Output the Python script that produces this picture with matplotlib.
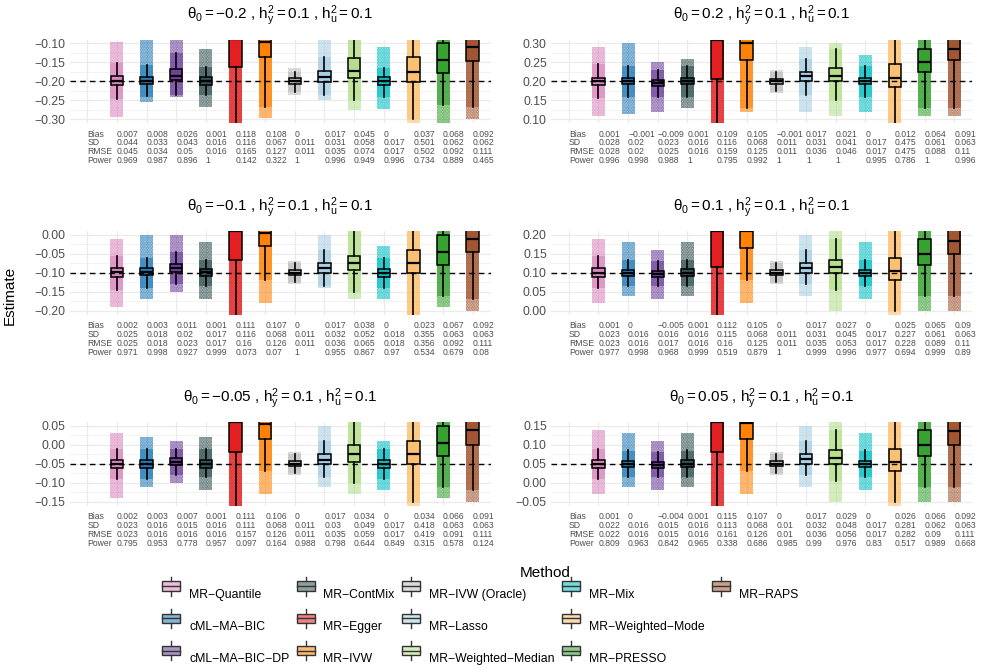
import matplotlib.pyplot as plt
import matplotlib.transforms as mtransforms
from matplotlib.patches import Rectangle
from matplotlib.lines import Line2D
from matplotlib.legend_handler import HandlerBase
from matplotlib.ticker import MultipleLocator, FuncFormatter, FixedLocator

plt.rcParams['font.family'] = ['Liberation Sans', 'DejaVu Sans']
plt.rcParams['mathtext.fontset'] = 'custom'
plt.rcParams['mathtext.rm'] = 'Liberation Sans'
plt.rcParams['mathtext.it'] = 'Liberation Sans'
plt.rcParams['mathtext.sf'] = 'Liberation Sans'
plt.rcParams['hatch.linewidth'] = 1.0

methods = ["MR−Quantile", "cML−MA−BIC", "cML−MA−BIC−DP", "MR−ContMix", "MR−Egger",
           "MR−IVW", "MR−IVW (Oracle)", "MR−Lasso", "MR−Weighted−Median", "MR−Mix",
           "MR−Weighted−Mode", "MR−PRESSO", "MR−RAPS"]
colors = ["#DA84BD", "#1F78B4", "#6A3D9A", "#2F4F4F", "#E31A1C", "#FF7F00", "#BEBEBE",
          "#A6CEE3", "#B2DF8A", "#00BFC4", "#FDBF6F", "#33A02C", "#A0522D"]

theta0 = [-0.2, 0.2, -0.1, 0.1, -0.05, 0.05]
row_names = ["Bias", "SD", "RMSE", "Power"]

# box stats per method: (lower whisker, q1, median, q3, upper whisker)
box_A = [(-0.246, -0.2105, -0.198, -0.186, -0.153), (-0.240, -0.207, -0.198, -0.188, -0.157),
         (-0.236, -0.197, -0.186, -0.168, -0.125), (-0.236, -0.209, -0.199, -0.190, -0.162),
         (-0.45, -0.162, -0.09, -0.01, 0.2), (-0.267, -0.137, -0.096, -0.047, 0.08),
         (-0.227, -0.207, -0.200, -0.192, -0.175), (-0.236, -0.201, -0.190, -0.173, -0.137),
         (-0.249, -0.192, -0.173, -0.140, -0.07), (-0.242, -0.210, -0.199, -0.190, -0.166),
         (-0.30, -0.201, -0.175, -0.137, -0.04), (-0.262, -0.179, -0.145, -0.098, 0.02),
         (-0.267, -0.147, -0.109, -0.07, 0.05)]
box_B = [(0.155, 0.190, 0.200, 0.210, 0.245), (0.160, 0.192, 0.200, 0.208, 0.240),
         (0.160, 0.187, 0.195, 0.204, 0.230), (0.160, 0.192, 0.201, 0.210, 0.240),
         (0.0, 0.205, 0.31, 0.39, 0.6), (0.13, 0.256, 0.30, 0.35, 0.47),
         (0.175, 0.193, 0.200, 0.207, 0.225), (0.165, 0.200, 0.213, 0.225, 0.26),
         (0.15, 0.200, 0.215, 0.235, 0.285), (0.16, 0.192, 0.201, 0.210, 0.240),
         (0.09, 0.185, 0.210, 0.245, 0.34), (0.13, 0.225, 0.250, 0.285, 0.36),
         (0.13, 0.255, 0.285, 0.33, 0.43)]
box_C = [(-0.145, -0.11, -0.098, -0.088, -0.055), (-0.14, -0.107, -0.097, -0.088, -0.06),
         (-0.13, -0.098, -0.088, -0.077, -0.045), (-0.135, -0.108, -0.099, -0.090, -0.065),
         (-0.35, -0.065, 0.01, 0.09, 0.3), (-0.12, -0.03, 0.005, 0.05, 0.18),
         (-0.125, -0.107, -0.1, -0.093, -0.075), (-0.135, -0.10, -0.088, -0.075, -0.04),
         (-0.15, -0.093, -0.075, -0.055, 0.01), (-0.14, -0.11, -0.1, -0.09, -0.06),
         (-0.22, -0.10, -0.075, -0.04, 0.06), (-0.16, -0.08, -0.045, 0.0, 0.12),
         (-0.17, -0.045, -0.01, 0.03, 0.15)]
box_D = [(0.06, 0.09, 0.10, 0.112, 0.145), (0.065, 0.092, 0.10, 0.108, 0.135),
         (0.065, 0.088, 0.096, 0.105, 0.13), (0.065, 0.092, 0.10, 0.11, 0.135),
         (-0.1, 0.115, 0.21, 0.29, 0.5), (0.08, 0.165, 0.21, 0.25, 0.37),
         (0.075, 0.093, 0.10, 0.107, 0.125), (0.07, 0.10, 0.112, 0.127, 0.16),
         (0.055, 0.10, 0.115, 0.135, 0.19), (0.065, 0.092, 0.10, 0.108, 0.135),
         (0.0, 0.08, 0.105, 0.14, 0.24), (0.04, 0.12, 0.15, 0.19, 0.3),
         (0.04, 0.15, 0.185, 0.23, 0.35)]
box_E = [(-0.09, -0.06, -0.05, -0.04, -0.01), (-0.09, -0.06, -0.05, -0.04, -0.01),
         (-0.08, -0.054, -0.045, -0.036, -0.01), (-0.085, -0.06, -0.05, -0.04, -0.01),
         (-0.3, -0.02, 0.06, 0.14, 0.35), (-0.07, 0.015, 0.056, 0.1, 0.22),
         (-0.075, -0.057, -0.05, -0.043, -0.025), (-0.085, -0.05, -0.04, -0.025, 0.01),
         (-0.1, -0.045, -0.025, 0.0, 0.06), (-0.09, -0.06, -0.05, -0.04, -0.01),
         (-0.15, -0.05, -0.025, 0.01, 0.11), (-0.11, -0.03, 0.005, 0.05, 0.17),
         (-0.12, 0.0, 0.04, 0.08, 0.2)]
box_F = [(0.01, 0.04, 0.05, 0.06, 0.09), (0.015, 0.042, 0.05, 0.058, 0.085),
         (0.015, 0.038, 0.046, 0.055, 0.08), (0.015, 0.042, 0.05, 0.06, 0.085),
         (-0.15, 0.08, 0.16, 0.24, 0.45), (0.03, 0.115, 0.157, 0.2, 0.32),
         (0.025, 0.043, 0.05, 0.057, 0.075), (0.02, 0.05, 0.062, 0.077, 0.11),
         (0.005, 0.05, 0.065, 0.085, 0.14), (0.015, 0.042, 0.05, 0.058, 0.085),
         (-0.05, 0.03, 0.055, 0.09, 0.19), (-0.01, 0.07, 0.10, 0.14, 0.25),
         (-0.01, 0.10, 0.135, 0.18, 0.3)]

# vertical extent of the jittered point clouds: (lowest, highest)
cloud_A = [(-0.293, -0.096), (-0.254, -0.09), (-0.242, -0.08), (-0.267, -0.116), (-0.5, 0.3),
           (-0.297, 0.1), (-0.235, -0.165), (-0.249, -0.09), (-0.276, -0.05), (-0.274, -0.109),
           (-0.4, 0.0), (-0.31, 0.05), (-0.30, 0.1)]
cloud_B = [(0.11, 0.29), (0.115, 0.30), (0.12, 0.25), (0.13, 0.26), (-0.1, 0.7), (0.12, 0.5),
           (0.17, 0.23), (0.12, 0.29), (0.11, 0.30), (0.12, 0.27), (0.0, 0.4), (0.11, 0.4),
           (0.11, 0.45)]
cloud_C = [(-0.19, -0.01), (-0.17, 0.0), (-0.15, 0.0), (-0.17, -0.02), (-0.5, 0.5), (-0.18, 0.2),
           (-0.13, -0.07), (-0.14, 0.0), (-0.17, 0.01), (-0.17, -0.03), (-0.3, 0.1), (-0.19, 0.15),
           (-0.2, 0.2)]
cloud_D = [(0.02, 0.19), (0.04, 0.18), (0.03, 0.16), (0.04, 0.18), (-0.2, 0.6), (0.02, 0.4),
           (0.07, 0.13), (0.04, 0.20), (0.0, 0.21), (0.03, 0.18), (-0.1, 0.3), (0.0, 0.3),
           (0.0, 0.4)]
cloud_E = [(-0.14, 0.03), (-0.11, 0.02), (-0.10, 0.01), (-0.12, 0.02), (-0.4, 0.5), (-0.13, 0.25),
           (-0.08, -0.02), (-0.11, 0.05), (-0.13, 0.07), (-0.12, 0.01), (-0.2, 0.2), (-0.14, 0.2),
           (-0.15, 0.25)]
cloud_F = [(-0.03, 0.14), (-0.01, 0.13), (-0.02, 0.11), (-0.01, 0.13), (-0.3, 0.5), (-0.03, 0.3),
           (0.02, 0.08), (-0.01, 0.15), (-0.05, 0.16), (-0.02, 0.13), (-0.15, 0.25), (-0.05, 0.25),
           (-0.05, 0.35)]

bias_A = [0.007, 0.008, 0.026, 0.001, 0.118, 0.108, 0, 0.017, 0.045, 0, 0.037, 0.068, 0.092]
sd_A = [0.044, 0.033, 0.043, 0.016, 0.116, 0.067, 0.011, 0.031, 0.058, 0.017, 0.501, 0.062, 0.062]
rmse_A = [0.045, 0.034, 0.05, 0.016, 0.165, 0.127, 0.011, 0.035, 0.074, 0.017, 0.502, 0.092, 0.111]
power_A = [0.969, 0.987, 0.896, 1, 0.142, 0.322, 1, 0.996, 0.949, 0.996, 0.734, 0.889, 0.465]

bias_B = [0.001, -0.001, -0.009, 0.001, 0.109, 0.105, -0.001, 0.017, 0.021, 0, 0.012, 0.064, 0.091]
sd_B = [0.028, 0.02, 0.023, 0.016, 0.116, 0.068, 0.011, 0.031, 0.041, 0.017, 0.475, 0.061, 0.063]
rmse_B = [0.028, 0.02, 0.025, 0.016, 0.159, 0.125, 0.011, 0.036, 0.046, 0.017, 0.475, 0.088, 0.11]
power_B = [0.996, 0.998, 0.988, 1, 0.795, 0.992, 1, 1, 1, 0.995, 0.786, 1, 0.996]

bias_C = [0.002, 0.003, 0.011, 0.001, 0.111, 0.107, 0, 0.017, 0.038, 0, 0.023, 0.067, 0.092]
sd_C = [0.025, 0.018, 0.02, 0.017, 0.116, 0.068, 0.011, 0.032, 0.052, 0.018, 0.355, 0.063, 0.063]
rmse_C = [0.025, 0.018, 0.023, 0.017, 0.16, 0.126, 0.011, 0.036, 0.065, 0.018, 0.356, 0.092, 0.111]
power_C = [0.971, 0.998, 0.927, 0.999, 0.073, 0.07, 1, 0.955, 0.867, 0.97, 0.534, 0.679, 0.08]

bias_D = [0.001, 0, -0.005, 0.001, 0.112, 0.105, 0, 0.017, 0.027, 0, 0.025, 0.065, 0.09]
sd_D = [0.023, 0.016, 0.016, 0.016, 0.115, 0.068, 0.011, 0.031, 0.045, 0.017, 0.227, 0.061, 0.063]
rmse_D = [0.023, 0.016, 0.017, 0.016, 0.16, 0.125, 0.011, 0.035, 0.053, 0.017, 0.228, 0.089, 0.11]
power_D = [0.977, 0.998, 0.968, 0.999, 0.519, 0.879, 1, 0.999, 0.996, 0.977, 0.694, 0.999, 0.89]

bias_E = [0.002, 0.003, 0.007, 0.001, 0.111, 0.106, 0, 0.017, 0.034, 0, 0.034, 0.066, 0.091]
sd_E = [0.023, 0.016, 0.015, 0.016, 0.111, 0.068, 0.011, 0.03, 0.049, 0.017, 0.418, 0.063, 0.063]
rmse_E = [0.023, 0.016, 0.016, 0.016, 0.157, 0.126, 0.011, 0.035, 0.059, 0.017, 0.419, 0.091, 0.111]
power_E = [0.795, 0.953, 0.778, 0.957, 0.097, 0.164, 0.988, 0.798, 0.644, 0.849, 0.315, 0.578, 0.124]

bias_F = [0.001, 0, -0.004, 0.001, 0.115, 0.107, 0, 0.017, 0.029, 0, 0.026, 0.066, 0.092]
sd_F = [0.022, 0.016, 0.015, 0.016, 0.113, 0.068, 0.01, 0.032, 0.048, 0.017, 0.281, 0.062, 0.063]
rmse_F = [0.022, 0.016, 0.015, 0.016, 0.161, 0.126, 0.01, 0.036, 0.056, 0.017, 0.282, 0.09, 0.111]
power_F = [0.809, 0.963, 0.842, 0.965, 0.338, 0.686, 0.985, 0.99, 0.976, 0.83, 0.517, 0.989, 0.668]

panels = [
    (box_A, cloud_A, [bias_A, sd_A, rmse_A, power_A]),
    (box_B, cloud_B, [bias_B, sd_B, rmse_B, power_B]),
    (box_C, cloud_C, [bias_C, sd_C, rmse_C, power_C]),
    (box_D, cloud_D, [bias_D, sd_D, rmse_D, power_D]),
    (box_E, cloud_E, [bias_E, sd_E, rmse_E, power_E]),
    (box_F, cloud_F, [bias_F, sd_F, rmse_F, power_F]),
]

W, H = 984, 672
fig = plt.figure(figsize=(W / 100, H / 100), dpi=100)

col_left = [69.5, 551]
row_top = [39.5, 231, 422]
ax_w, ax_h = 421, 83.6


def fmt_num(v):
    return "{:g}".format(v).replace("-", "\u2212")


def fmt_tick(v, pos):
    if abs(v) < 1e-9:
        v = 0.0
    return "{:.2f}".format(v).replace("-", "\u2212")


for k, (boxes, clouds, table) in enumerate(panels):
    r, c = divmod(k, 2)
    ax = fig.add_axes([col_left[c] / W, 1 - (row_top[r] + ax_h) / H, ax_w / W, ax_h / H])
    th = theta0[k]
    xs = list(range(2, 2 + len(methods)))

    # jittered points: sparse tails over the full range, dense core around the whiskers
    for x, (lo, hi), b, col in zip(xs, clouds, boxes, colors):
        ax.bar(x, hi - lo, bottom=lo, width=0.44, facecolor=(col, 0.2),
               edgecolor=(col, 0.8), linewidth=0, hatch="." * 10, zorder=2)
        ax.bar(x, b[4] - b[0], bottom=b[0], width=0.44, facecolor=(col, 0.6),
               edgecolor="none", linewidth=0, zorder=2)

    stats = [dict(whislo=b[0], q1=b[1], med=b[2], q3=b[3], whishi=b[4], fliers=[])
             for b in boxes]
    bp = ax.bxp(stats, positions=xs, widths=0.42, patch_artist=True, showcaps=False,
                manage_ticks=False,
                boxprops=dict(edgecolor="black", linewidth=1.1),
                whiskerprops=dict(color="black", linewidth=1.2),
                medianprops=dict(color="black", linewidth=1.6))
    for patch, col in zip(bp["boxes"], colors):
        patch.set_facecolor((col, 0.85))
    for art in bp["boxes"] + bp["whiskers"] + bp["medians"]:
        art.set_zorder(3)

    ax.axhline(th, color="black", linestyle=(0, (4, 3)), linewidth=1.0, zorder=4)

    ax.set_xlim(0.4, 14.6)
    ax.set_ylim(th - 0.11, th + 0.11)
    ax.xaxis.set_major_locator(FixedLocator(list(range(1, 15))))
    ax.set_xticklabels([])
    ax.yaxis.set_major_locator(MultipleLocator(0.05))
    ax.yaxis.set_minor_locator(MultipleLocator(0.025))
    ax.yaxis.set_major_formatter(FuncFormatter(fmt_tick))
    ax.grid(True, which="major", color="#EBEBEB", linewidth=0.9, zorder=0)
    ax.grid(True, which="minor", axis="y", color="#EBEBEB", linewidth=0.45, zorder=0)
    ax.set_axisbelow(True)
    ax.tick_params(which="both", length=0, labelsize=8.8, labelcolor="#4D4D4D", pad=3)
    for s in ax.spines.values():
        s.set_visible(False)

    ax.text(0.5, 1 + 23.5 / ax_h,
            r"$\theta_0 = %s$ , $\mathrm{h}_\mathrm{y}^2 = 0.1$ , $\mathrm{h}_\mathrm{u}^2 = 0.1$"
            % fmt_num(th).replace("\u2212", "-"),
            transform=ax.transAxes, ha="center", va="center", fontsize=11)

    trans = mtransforms.blended_transform_factory(ax.transData, ax.transAxes)
    for j, (name, vals) in enumerate(zip(row_names, table)):
        yy = -(11 + 8.8 * j) / ax_h
        ax.text(1, yy, name, transform=trans, ha="left", va="center", fontsize=6.2,
                color="#4D4D4D", clip_on=False)
        for x, v in zip(xs, vals):
            ax.text(x, yy, fmt_num(v), transform=trans, ha="left", va="center",
                    fontsize=6.2, color="#4D4D4D", clip_on=False)

fig.text(10 / W, 1 - 295 / H, "Estimate", rotation=90, ha="center", va="center", fontsize=11)


class BoxKey(HandlerBase):
    def create_artists(self, legend, orig, xd, yd, w, h, fontsize, trans):
        fc = orig.get_facecolor()
        box = Rectangle((xd, yd + 0.2 * h), w, 0.6 * h, facecolor=fc, edgecolor="#333333",
                        linewidth=1.0, transform=trans)
        med = Line2D([xd, xd + w], [yd + 0.5 * h] * 2, color="#333333", linewidth=1.0,
                     transform=trans)
        wu = Line2D([xd + w / 2] * 2, [yd + 0.8 * h, yd + 1.1 * h], color="#333333",
                    linewidth=1.0, transform=trans)
        wl = Line2D([xd + w / 2] * 2, [yd - 0.1 * h, yd + 0.2 * h], color="#333333",
                    linewidth=1.0, transform=trans)
        return [box, med, wu, wl]


handles = [Rectangle((0, 0), 1, 1, facecolor=(col, 0.55)) for col in colors]
labels = list(methods)
blank = Line2D([], [], color="none")
handles += [blank, blank]
labels += ["", ""]
fig.legend(handles, labels, handler_map={Rectangle: BoxKey()}, ncol=5, loc="center",
           bbox_to_anchor=(480 / W, 1 - 626 / H), frameon=False, fontsize=8.8,
           handlelength=1.5, handleheight=1.6, handletextpad=0.7, columnspacing=0.6,
           labelspacing=1.35)
fig.text(545 / W, 1 - 573 / H, "Method", ha="center", va="center", fontsize=11)

fig.savefig("out.png", dpi=100)
